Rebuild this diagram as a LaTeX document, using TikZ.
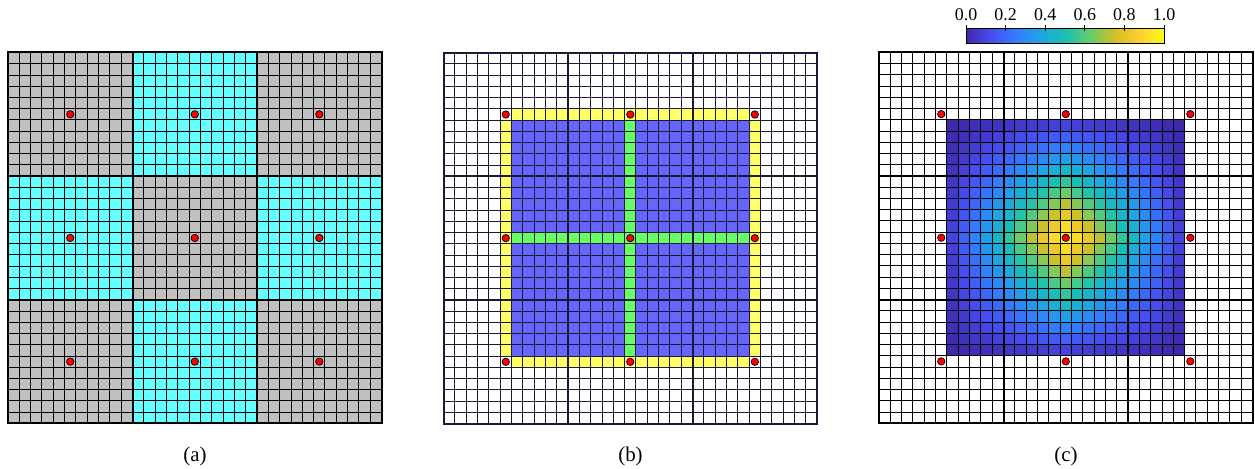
\documentclass[tikz,border=0pt]{standalone}
\usepackage{fontspec}
\setmainfont{Liberation Serif}
\definecolor{par0}{rgb}{0.2422,0.1504,0.6603}
\definecolor{par1}{rgb}{0.2813,0.3006,0.9414}
\definecolor{par2}{rgb}{0.1963,0.4847,0.9892}
\definecolor{par3}{rgb}{0.1248,0.6459,0.8883}
\definecolor{par4}{rgb}{0.0964,0.7500,0.7120}
\definecolor{par5}{rgb}{0.3909,0.8029,0.4354}
\definecolor{par6}{rgb}{0.8203,0.7498,0.1535}
\definecolor{par7}{rgb}{0.9892,0.8136,0.1885}
\definecolor{par8}{rgb}{0.9769,0.9839,0.0805}
\definecolor{agray}{HTML}{C0C0C0}
\definecolor{acyan}{HTML}{66FFFF}
\definecolor{byellow}{HTML}{FFFF66}
\definecolor{bblue}{HTML}{6666FF}
\definecolor{bgreen}{HTML}{66FF66}
\definecolor{bline}{rgb}{0.10,0.10,0.20}
\newcommand\setparula[1]{%
  \pgfmathsetmacro\pv{max(0,min(1,#1))*8}%
  \pgfmathtruncatemacro\pari{min(7,floor(\pv))}%
  \pgfmathtruncatemacro\parj{\pari+1}%
  \pgfmathsetmacro\pf{(\pv-\pari)*100}%
  \colorlet{cellcol}{par\parj!\pf!par\pari}%
}
\tikzset{
  gridthin/.style={line width=0.95bp},
  gridthick/.style={line width=2bp},
  nodedot/.style={fill=red, draw=black, line width=0.7bp},
  lbl/.style={font=\fontsize{18}{21}\selectfont, inner sep=0pt},
  captext/.style={font=\fontsize{21}{24}\selectfont, inner sep=0pt},
}
\newcommand\drawgrid[1]{%
  \foreach \k in {1,...,32}{\draw[gridthin,#1] (\k,0) -- (\k,33); \draw[gridthin,#1] (0,\k) -- (33,\k);}
  \foreach \k in {11,22}{\draw[gridthick,#1] (\k,0) -- (\k,33); \draw[gridthick,#1] (0,\k) -- (33,\k);}
  \draw[gridthick,#1] (0,0) rectangle (33,33);
}
\newcommand\drawdots{%
  \foreach \a in {5.5,16.5,27.5}{\foreach \b in {5.5,16.5,27.5}{%
    \filldraw[nodedot] (\a,\b) circle[radius=3.7bp];}}%
}
\begin{document}
\begin{tikzpicture}[x=1bp,y=-1bp]
\useasboundingbox (0,0) rectangle (1255,469);
% ---------- panel (a)
\begin{scope}[shift={(8,52.5)},x=11.32bp,y=-11.24bp]
  \foreach \bi in {0,1,2}{\foreach \bj in {0,1,2}{%
    \pgfmathtruncatemacro\pty{mod(\bi+\bj,2)}%
    \ifnum\pty=0 \def\bc{agray}\else\def\bc{acyan}\fi
    \fill[\bc] (11*\bi,11*\bj) rectangle ++(11,11);}}
  \drawgrid{black}
  \drawdots
\end{scope}
% ---------- panel (b)
\begin{scope}[shift={(443.5,52.7)},x=11.32bp,y=-11.24bp]
  \fill[bblue] (6,6) rectangle (27,27);
  \fill[bgreen] (6,16) rectangle (27,17);
  \fill[bgreen] (16,6) rectangle (17,27);
  \fill[byellow] (6,5) rectangle (27,6);
  \fill[byellow] (6,27) rectangle (27,28);
  \fill[byellow] (5,6) rectangle (6,27);
  \fill[byellow] (27,6) rectangle (28,27);
  \drawgrid{bline}
  \drawdots
\end{scope}
% ---------- panel (c)
\begin{scope}[shift={(879,52.3)},x=11.32bp,y=-11.24bp]
  \foreach \i in {6,...,26}{\foreach \j in {6,...,26}{%
    \pgfmathsetmacro\vv{(1-abs(\i-16)/11)*(1-abs(\j-16)/11)}%
    \setparula{\vv}%
    \fill[cellcol] (\i,\j) rectangle ++(1,1);}}
  \drawgrid{black}
  \drawdots
\end{scope}
% ---------- colour bar
\foreach \s in {0,...,197}{%
  \setparula{(\s+0.5)/198}%
  \fill[cellcol] ({966+\s},28.3) rectangle ({967.3+\s},43.7);}
\draw[line width=0.9bp] (966,28.3) rectangle (1164,43.7);
\foreach \k/\t in {0/0.0,1/0.2,2/0.4,3/0.6,4/0.8,5/1.0}{%
  \draw[line width=0.8bp] ({966+39.6*\k},25.3) -- ({966+39.6*\k},31.3);
  \node[lbl,anchor=base] (cb\k) at ({966+39.6*\k},21) {\t};}
% ---------- captions
\node[captext,anchor=base] (la) at (195,462) {(a)};
\node[captext,anchor=base] (lb) at (630.5,462) {(b)};
\node[captext,anchor=base] (lc) at (1066,462) {(c)};
\end{tikzpicture}
\end{document}
